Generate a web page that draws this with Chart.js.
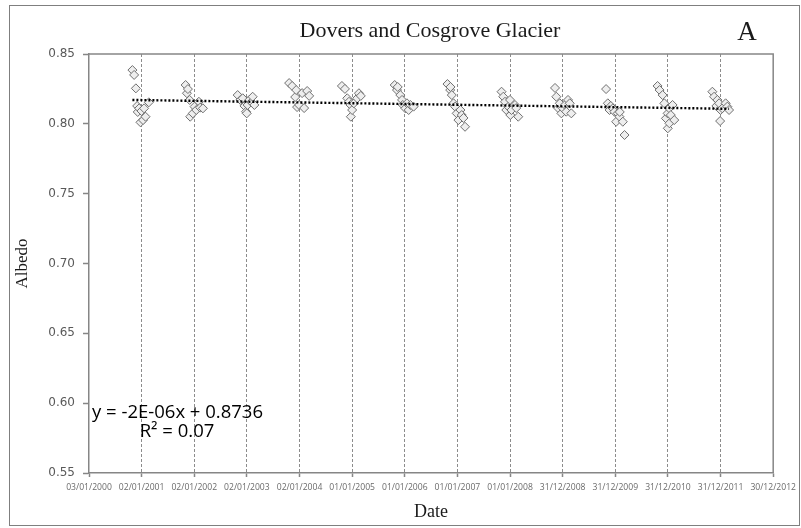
<!DOCTYPE html>
<html>
<head>
<meta charset="utf-8">
<script src="https://cdn.jsdelivr.net/npm/chart.js@4.4.1/dist/chart.umd.min.js"></script>
<style>
  html, body { margin: 0; padding: 0; background: #ffffff; }
  #wrap { position: relative; width: 801px; height: 528px; }
</style>
</head>
<body>
<div id="wrap"><canvas id="chart"></canvas></div>
<script>
// Axis tick dates (dd/mm/yyyy), one every 365 days
const tickLabels = [
  '03/01/2000', '02/01/2001', '02/01/2002', '02/01/2003', '02/01/2004',
  '01/01/2005', '01/01/2006', '01/01/2007', '01/01/2008', '31/12/2008',
  '31/12/2009', '31/12/2010', '31/12/2011', '30/12/2012'
];

// Observation dates as spreadsheet day serials (days since 30/12/1899)
const obsDays = [
  36829, 36841, 36853, 36862, 36866, 36876, 36885, 36892, 36903, 36910, 36920, 36943,
  37198, 37207, 37214, 37226, 37230, 37248, 37260, 37272, 37290, 37299, 37318,
  37559, 37578, 37594, 37606, 37617, 37622, 37628, 37640, 37654, 37663, 37675,
  37916, 37937, 37958, 37965, 37971, 37985, 38006, 38020, 38041, 38055,
  38282, 38303, 38319, 38331, 38342, 38344, 38353, 38365, 38388, 38400, 38413,
  38648, 38664, 38669, 38687, 38699, 38704, 38722, 38733, 38745, 38757, 38779,
  39014, 39033, 39035, 39044, 39056, 39067, 39078, 39090, 39104, 39113, 39125, 39136,
  39389, 39401, 39413, 39422, 39436, 39448, 39450, 39458, 39482, 39491, 39505,
  39760, 39769, 39781, 39793, 39804, 39815, 39829, 39838, 39850, 39862, 39873,
  40114, 40126, 40138, 40147, 40161, 40172, 40184, 40195, 40207, 40209, 40230, 40242,
  40471, 40485, 40506, 40518, 40529, 40541, 40542, 40552, 40553, 40563, 40575, 40587,
  40851, 40863, 40879, 40886, 40898, 40905, 40908, 40920, 40943, 40955, 40967
];

// Albedo observed on each of the dates above
const albedo = [
  0.8385, 0.8350, 0.8254, 0.8128, 0.8085, 0.8111, 0.8011, 0.8092, 0.8027, 0.8111, 0.8051, 0.8154,
  0.8278, 0.8219, 0.8249, 0.8171, 0.8051, 0.8075, 0.8123, 0.8099, 0.8158, 0.8116, 0.8111,
  0.8206, 0.8171, 0.8183, 0.8128, 0.8087, 0.8075, 0.8135, 0.8171, 0.8156, 0.8194, 0.8135,
  0.8292, 0.8271, 0.8192, 0.8242, 0.8120, 0.8135, 0.8220, 0.8113, 0.8235, 0.8200,
  0.8271, 0.8250, 0.8183, 0.8158, 0.8135, 0.8051, 0.8099, 0.8147, 0.8183, 0.8219, 0.8200,
  0.8278, 0.8242, 0.8264, 0.8206, 0.8171, 0.8135, 0.8111, 0.8147, 0.8099, 0.8135, 0.8123,
  0.8285, 0.8242, 0.8264, 0.8206, 0.8147, 0.8123, 0.8075, 0.8027, 0.8099, 0.8063, 0.8042, 0.7979,
  0.8230, 0.8194, 0.8158, 0.8099, 0.8123, 0.8171, 0.8063, 0.8099, 0.8135, 0.8113, 0.8051,
  0.8257, 0.8194, 0.8113, 0.8147, 0.8075, 0.8111, 0.8135, 0.8087, 0.8171, 0.8147, 0.8075,
  0.8249, 0.8147, 0.8099, 0.8128, 0.8111, 0.8087, 0.8015, 0.8075, 0.8051, 0.8085, 0.8015, 0.7920,
  0.8271, 0.8242, 0.8206, 0.8147, 0.8039, 0.8075, 0.7968, 0.8111, 0.8004, 0.8063, 0.8135, 0.8027,
  0.8230, 0.8194, 0.8128, 0.8171, 0.8147, 0.8020, 0.8099, 0.8111, 0.8147, 0.8123, 0.8099
];

// Linear trend (x in day serials) and its goodness of fit
const trendSlope = -1.534e-6;
const trendIntercept = 0.8736;
const trendR2 = 0.07;

const DAY_MS = 86400000;
const EPOCH = Date.UTC(1899, 11, 30);
function labelToSerial(s) {
  const [d, m, y] = s.split('/').map(Number);
  return Math.round((Date.UTC(y, m - 1, d) - EPOCH) / DAY_MS);
}
const tickSerials = tickLabels.map(labelToSerial);

function fmtSlope(v) {
  // spreadsheet-style scientific notation, e.g. -2E-06
  const [mant, exp] = v.toExponential(0).split('e');
  const e = parseInt(exp, 10);
  const sign = e < 0 ? '-' : '+';
  return mant + 'E' + sign + String(Math.abs(e)).padStart(2, '0');
}
const eqLine = 'y = ' + fmtSlope(trendSlope) + 'x + ' + trendIntercept.toFixed(4);
const r2Line = 'R\u00B2 = ' + trendR2.toFixed(2);

const points = obsDays.map((d, i) => ({ x: d, y: albedo[i] }));
const xFirst = Math.min(...obsDays);
const xLast = Math.max(...obsDays);
const trendPts = [
  { x: xFirst, y: trendIntercept + trendSlope * xFirst },
  { x: xLast, y: trendIntercept + trendSlope * xLast }
];

const AXIS_GREY = '#868686';
const SERIF = '"Liberation Serif", "DejaVu Serif", serif';

const decorations = {
  id: 'decorations',
  beforeDraw(chart) {
    const ctx = chart.ctx;
    ctx.save();
    ctx.fillStyle = '#ffffff';
    ctx.fillRect(0, 0, chart.width, chart.height);
    ctx.restore();
  },
  afterDraw(chart) {
    const ctx = chart.ctx;
    const a = chart.chartArea;
    ctx.save();
    // plot frame: top and right edges
    ctx.strokeStyle = AXIS_GREY;
    ctx.lineWidth = 1.5;
    ctx.beginPath();
    ctx.moveTo(a.left, a.top);
    ctx.lineTo(a.right, a.top);
    ctx.lineTo(a.right, a.bottom);
    ctx.stroke();
    // outer frame
    ctx.strokeStyle = '#7f7f7f';
    ctx.lineWidth = 1;
    ctx.strokeRect(9.5, 5.5, 790, 520);
    // title and panel letter
    ctx.fillStyle = '#1a1a1a';
    ctx.textBaseline = 'alphabetic';
    ctx.textAlign = 'center';
    ctx.font = '22px ' + SERIF;
    ctx.fillText('Dovers and Cosgrove Glacier', 430, 37);
    ctx.font = '27px ' + SERIF;
    ctx.fillText('A', 747, 40);
    // trendline equation
    ctx.fillStyle = '#000000';
    ctx.font = '18.5px "Open Sans", "Liberation Sans", sans-serif';
    ctx.textAlign = 'left';
    ctx.fillText(eqLine, 92, 418);
    ctx.textAlign = 'center';
    ctx.fillText(r2Line, 177, 437);
    ctx.restore();
  }
};

new Chart(document.getElementById('chart'), {
  type: 'scatter',
  data: {
    datasets: [
      {
        label: 'Linear trend',
        data: trendPts,
        showLine: true,
        borderColor: '#000000',
        borderWidth: 2.4,
        borderDash: [2, 2],
        pointRadius: 0,
        fill: false
      },
      {
        label: 'Albedo',
        data: points,
        pointStyle: 'rectRot',
        pointRadius: 4.5,
        pointBorderWidth: 1,
        borderColor: '#707070',
        backgroundColor: '#eeeeee'
      }
    ]
  },
  plugins: [decorations],
  options: {
    responsive: true,
    maintainAspectRatio: false,
    animation: false,
    events: [],
    layout: { padding: { left: 0, right: 25, top: 54, bottom: 0 } },
    plugins: {
      legend: { display: false },
      tooltip: { enabled: false },
      title: { display: false }
    },
    scales: {
      x: {
        type: 'linear',
        min: tickSerials[0],
        max: tickSerials[tickSerials.length - 1],
        afterBuildTicks(axis) {
          axis.ticks = tickSerials.map(v => ({ value: v }));
        },
        afterFit(axis) { axis.height = 55; },
        ticks: {
          autoSkip: false,
          maxRotation: 0,
          minRotation: 0,
          padding: 5,
          color: '#6b6b6b',
          font: { family: '"Open Sans", "Liberation Sans", sans-serif', size: 8.6 },
          callback: (v, i) => tickLabels[i]
        },
        grid: {
          drawOnChartArea: true,
          color: (c) => (c.index === 0 || c.index === tickSerials.length - 1) ? 'rgba(0,0,0,0)' : '#8c8c8c',
          lineWidth: 1,
          tickLength: 4,
          tickColor: AXIS_GREY,
          tickWidth: 1.5
        },
        border: { display: true, color: AXIS_GREY, width: 1.5, dash: [3, 2] },
        title: {
          display: true,
          text: 'Date',
          color: '#1a1a1a',
          font: { family: SERIF, size: 18 },
          padding: { top: 0, bottom: 5 }
        }
      },
      y: {
        min: 0.55,
        max: 0.85,
        afterFit(axis) { axis.width = 89; },
        ticks: {
          stepSize: 0.05,
          padding: 8,
          color: '#595959',
          font: { family: '"DejaVu Sans", sans-serif', size: 12 },
          callback: (v) => v.toFixed(2)
        },
        grid: {
          drawOnChartArea: false,
          tickLength: 6,
          tickColor: AXIS_GREY,
          tickWidth: 1.5
        },
        border: { display: true, color: AXIS_GREY, width: 1.5 },
        title: {
          display: true,
          text: 'Albedo',
          color: '#1a1a1a',
          font: { family: SERIF, size: 17 },
          padding: { top: 12, bottom: 0 }
        }
      }
    }
  }
});
</script>
</body>
</html>
